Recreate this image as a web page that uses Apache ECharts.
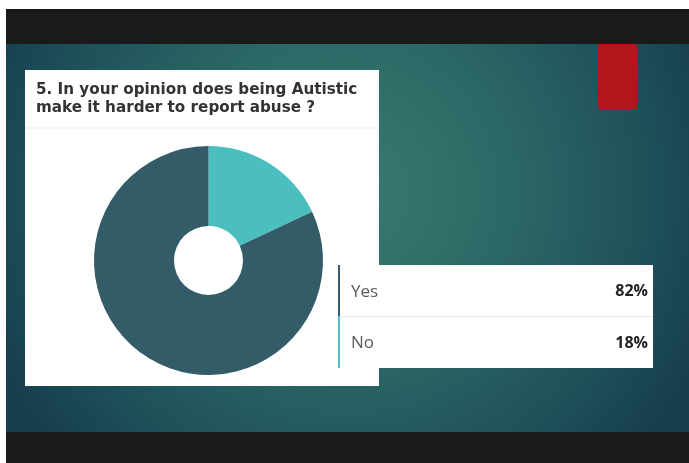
<!DOCTYPE html>
<html>
<head>
<meta charset="utf-8">
<script src="https://cdn.jsdelivr.net/npm/echarts@6/dist/echarts.min.js"></script>
<style>
  html, body { margin: 0; padding: 0; background: #fff; }
  #chart { width: 689px; height: 463px; }
</style>
</head>
<body>
<div id="chart"></div>
<script>
var titleText = '5. In your opinion does being Autistic\nmake it harder to report abuse ?';
var categories = ['Yes', 'No'];
var percents = [82, 18];
var colors = ['#345b68', '#4bbfc0'];

// pie goes clockwise from the top, "No" comes first there
var pieOrder = [1, 0];
var pieData = pieOrder.map(function (i) {
  return { name: categories[i], value: percents[i], itemStyle: { color: colors[i] } };
});

function legendRows() {
  var els = [];
  var top = 265, rowH = 51.5;
  els.push({
    type: 'rect', shape: { x: 338, y: top, width: 315, height: rowH * categories.length },
    style: { fill: '#ffffff' }
  });
  categories.forEach(function (name, i) {
    var y = top + i * rowH;
    els.push({
      type: 'rect', shape: { x: 338, y: y, width: 2, height: rowH },
      style: { fill: colors[i] }
    });
    if (i > 0) {
      els.push({
        type: 'line', shape: { x1: 340, y1: y, x2: 653, y2: y },
        style: { stroke: '#ececec', lineWidth: 1 }
      });
    }
    els.push({
      type: 'text', x: 351, y: y + rowH / 2 + 1,
      style: { text: name, fontFamily: 'Open Sans', fontSize: 17, fontWeight: 'normal',
        fill: '#5a5a5a', verticalAlign: 'middle' }
    });
    els.push({
      type: 'text', x: 648, y: y + rowH / 2 + 1,
      style: { text: percents[i] + '%', fontFamily: 'Open Sans', fontSize: 16, fontWeight: 'bold',
        fill: '#222', align: 'right', verticalAlign: 'middle' }
    });
  });
  return els;
}

var option = {
  animation: false,
  graphic: [
    // slide background
    {
      type: 'rect', z: -10, shape: { x: 6, y: 44, width: 683, height: 388 },
      style: {
        fill: {
          type: 'radial', x: 0.5, y: 0.38, r: 1.0,
          colorStops: [
            { offset: 0, color: '#3a7a72' },
            { offset: 0.4, color: '#2c6966' },
            { offset: 0.78, color: '#1e505a' },
            { offset: 1, color: '#173e4e' }
          ]
        }
      }
    },
    { type: 'rect', z: -10, shape: { x: 6, y: 9, width: 683, height: 35 }, style: { fill: '#1a1a1a' } },
    { type: 'rect', z: -10, shape: { x: 6, y: 432, width: 683, height: 31 }, style: { fill: '#1a1a1a' } },
    { type: 'rect', z: -9, shape: { x: 598, y: 44, width: 39, height: 65 }, style: { fill: '#b3161a' } },
    // white card
    { type: 'rect', z: -9, shape: { x: 25, y: 70, width: 354, height: 316 }, style: { fill: '#ffffff' } },
    { type: 'line', z: -8, shape: { x1: 25, y1: 128, x2: 379, y2: 128 }, style: { stroke: '#efefef', lineWidth: 1 } },
    {
      type: 'text', z: -8, x: 36, y: 81,
      style: { text: titleText, fontFamily: 'DejaVu Sans', fontSize: 15.2, fontWeight: 'bold',
        fill: '#333', lineHeight: 18 }
    },
    { type: 'group', children: legendRows() }
  ],
  series: [
    {
      name: 'Answer',
      type: 'pie',
      center: [208.5, 260.5],
      radius: [34.5, 114.5],
      startAngle: 90,
      clockwise: true,
      label: { show: false },
      labelLine: { show: false },
      emphasis: { disabled: true },
      itemStyle: { borderWidth: 0 },
      data: pieData
    }
  ]
};

var myChart = echarts.init(document.getElementById('chart'));
myChart.setOption(option, true);
</script>
</body>
</html>
